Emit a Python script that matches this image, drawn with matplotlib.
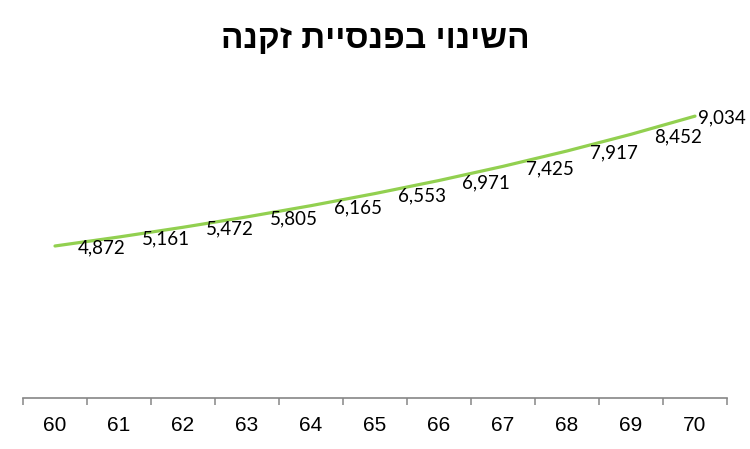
import matplotlib
matplotlib.use("Agg")
import matplotlib.pyplot as plt
from matplotlib.ticker import FixedLocator

title = "השינוי בפנסיית זקנה"
ages = ["60", "61", "62", "63", "64", "65", "66", "67", "68", "69", "70"]
values = [4872, 5161, 5472, 5805, 6165, 6553, 6971, 7425, 7917, 8452, 9034]

fig = plt.figure(figsize=(7.5, 4.49), dpi=100)
ax = fig.add_axes([23/750, 1-398/449, 704/750, 312/449])

x = list(range(len(ages)))
ax.plot(x, values, color="#92D050", lw=2.3, solid_capstyle="round")

for i, v in enumerate(values):
    last = i == len(values) - 1
    dx = 2 if last else 16.5
    ax.annotate(f"{v:,}", (i, v), xytext=(dx, -1.5), textcoords="offset points",
                ha="left", va="center", fontsize=13.5, family="Lato", color="black")

ax.set_xlim(-0.5, len(ages) - 0.5)
ax.set_ylim(0, 10000)
ax.set_yticks([])
for s in ["left", "right", "top"]:
    ax.spines[s].set_visible(False)
ax.spines["bottom"].set_color("#868686")
ax.spines["bottom"].set_linewidth(1.2)

ax.set_xticks(x)
ax.set_xticklabels(ages, family="Liberation Sans", fontsize=15)
ax.tick_params(axis="x", which="major", length=0, pad=13)
ax.xaxis.set_minor_locator(FixedLocator([i - 0.5 for i in range(len(ages) + 1)]))
ax.tick_params(axis="x", which="minor", length=5, width=1.1, color="#868686", direction="out")

fig.text(375/750, 1-40/449, title[::-1], ha="center", va="center",
         fontsize=24, fontweight="bold", family=["Liberation Sans", "DejaVu Sans"])

fig.savefig("out.png", dpi=100, facecolor="white")
